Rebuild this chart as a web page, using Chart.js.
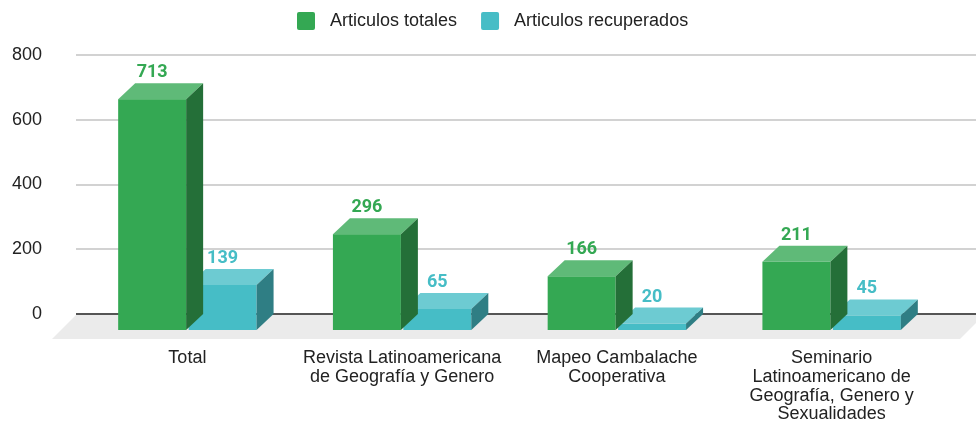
<!DOCTYPE html>
<html><head><meta charset="utf-8">
<script src="https://cdn.jsdelivr.net/npm/chart.js@4.4.1/dist/chart.umd.min.js"></script>
<style>html,body{margin:0;padding:0;background:#fff}#wrap{width:976px;height:421px;position:relative}</style>
</head><body><div id="wrap"><canvas id="c" width="976" height="421"></canvas></div>
<script>
const categories = ['Total', ['Revista Latinoamericana','de Geografía y Genero'], ['Mapeo Cambalache','Cooperativa'], ['Seminario','Latinoamericano de','Geografía, Genero y','Sexualidades']];
const seriesNames = ['Articulos totales','Articulos recuperados'];
const totales = [713, 296, 166, 211];
const recuperados = [139, 65, 20, 45];
const yMin = 0, yMax = 800, yStep = 200;

const FONT = "'Liberation Sans', Arial, sans-serif";
const DX = 17, DY = 16;
const faces = [
  {front:'#34A853', top:'#5FBA78', side:'#246F38'},
  {front:'#46BDC6', top:'#6DCBD2', side:'#2F7E84'}
];

const plugin3d = {
  id: 'bar3d',
  beforeDatasetsDraw(chart) {
    const {ctx, chartArea, scales:{y}} = chart;
    const y0 = y.getPixelForValue(0);
    const gx0 = chartArea.left - 4;
    ctx.save();
    // floor
    ctx.fillStyle = '#EBEBEB';
    ctx.beginPath();
    ctx.moveTo(gx0, y0 + 1);
    ctx.lineTo(chart.width + 8, y0 + 1);
    ctx.lineTo(chart.width - 16, y0 + 25);
    ctx.lineTo(gx0 - 24, y0 + 25);
    ctx.closePath();
    ctx.fill();
    // grid
    y.ticks.forEach(t => {
      const py = Math.round(y.getPixelForValue(t.value));
      ctx.beginPath();
      if (t.value === 0) { ctx.strokeStyle = '#555'; ctx.lineWidth = 2; }
      else { ctx.strokeStyle = '#D2D2D2'; ctx.lineWidth = 2; }
      ctx.moveTo(gx0, py); ctx.lineTo(chart.width, py);
      ctx.stroke();
    });
    ctx.restore();
  },
  beforeDatasetDraw(chart, args) {
    const {ctx} = chart;
    const f = faces[args.index];
    ctx.save();
    args.meta.data.forEach(el => {
      const w = el.width, l = el.x - w/2, r = el.x + w/2;
      const tb = el.y, bb = el.base;
      const tf = tb + DY, bf = bb + DY;
      ctx.fillStyle = f.front;
      ctx.fillRect(l, tf, w, bf - tf);
      ctx.fillStyle = f.top;
      ctx.beginPath();
      ctx.moveTo(l, tf); ctx.lineTo(l + DX, tb); ctx.lineTo(r + DX, tb); ctx.lineTo(r, tf); ctx.closePath(); ctx.fill();
      ctx.fillStyle = f.side;
      ctx.beginPath();
      ctx.moveTo(r, tf); ctx.lineTo(r + DX, tb); ctx.lineTo(r + DX, bb); ctx.lineTo(r, bf); ctx.closePath(); ctx.fill();
    });
    ctx.restore();
    return false;
  },
  afterDatasetsDraw(chart) {
    const {ctx} = chart;
    ctx.save();
    ctx.font = "bold 18px Roboto, 'Liberation Sans', sans-serif";
    ctx.textAlign = 'center';
    ctx.textBaseline = 'alphabetic';
    chart.data.datasets.forEach((ds, i) => {
      const meta = chart.getDatasetMeta(i);
      ctx.fillStyle = faces[i].front;
      meta.data.forEach((el, j) => {
        ctx.fillText(String(ds.data[j]), el.x, el.y - 6);
      });
    });
    ctx.restore();
  },
  afterDraw(chart) {
    const {ctx} = chart;
    ctx.save();
    ctx.font = '18px ' + FONT;
    ctx.textBaseline = 'middle';
    ctx.textAlign = 'left';
    let x = 297;
    chart.data.datasets.forEach((ds, i) => {
      ctx.fillStyle = faces[i].front;
      ctx.beginPath();
      ctx.roundRect(x, 12, 18, 18, 2);
      ctx.fill();
      ctx.fillStyle = '#222';
      ctx.fillText(ds.label, x + 33, 21);
      x += 33 + ctx.measureText(ds.label).width + 24;
    });
    ctx.restore();
  }
};

new Chart(document.getElementById('c'), {
  type: 'bar',
  data: {
    labels: categories,
    datasets: [
      {label: seriesNames[0], data: totales, backgroundColor: faces[0].front},
      {label: seriesNames[1], data: recuperados, backgroundColor: faces[1].front}
    ]
  },
  options: {
    responsive: false,
    animation: false,
    events: [],
    layout: {padding: {top: 55, left: 0, right: 37, bottom: 0}},
    datasets: {bar: {barPercentage: 0.965, categoryPercentage: 0.656}},
    plugins: {legend: {display: false}, tooltip: {enabled: false}},
    scales: {
      x: {
        grid: {display: false, drawTicks: false},
        border: {display: false},
        ticks: {font: {family: FONT, size: 18, lineHeight: 1.04}, color: '#222', padding: 35, maxRotation: 0, autoSkip: false},
        afterFit(axis) { axis.height = 107; }
      },
      y: {
        min: yMin, max: yMax,
        grid: {display: false, drawTicks: false},
        border: {display: false},
        ticks: {stepSize: yStep, font: {family: FONT, size: 18}, color: '#222', padding: 38},
        afterFit(axis) { axis.width = 80; }
      }
    }
  },
  plugins: [plugin3d]
});
</script></body></html>
